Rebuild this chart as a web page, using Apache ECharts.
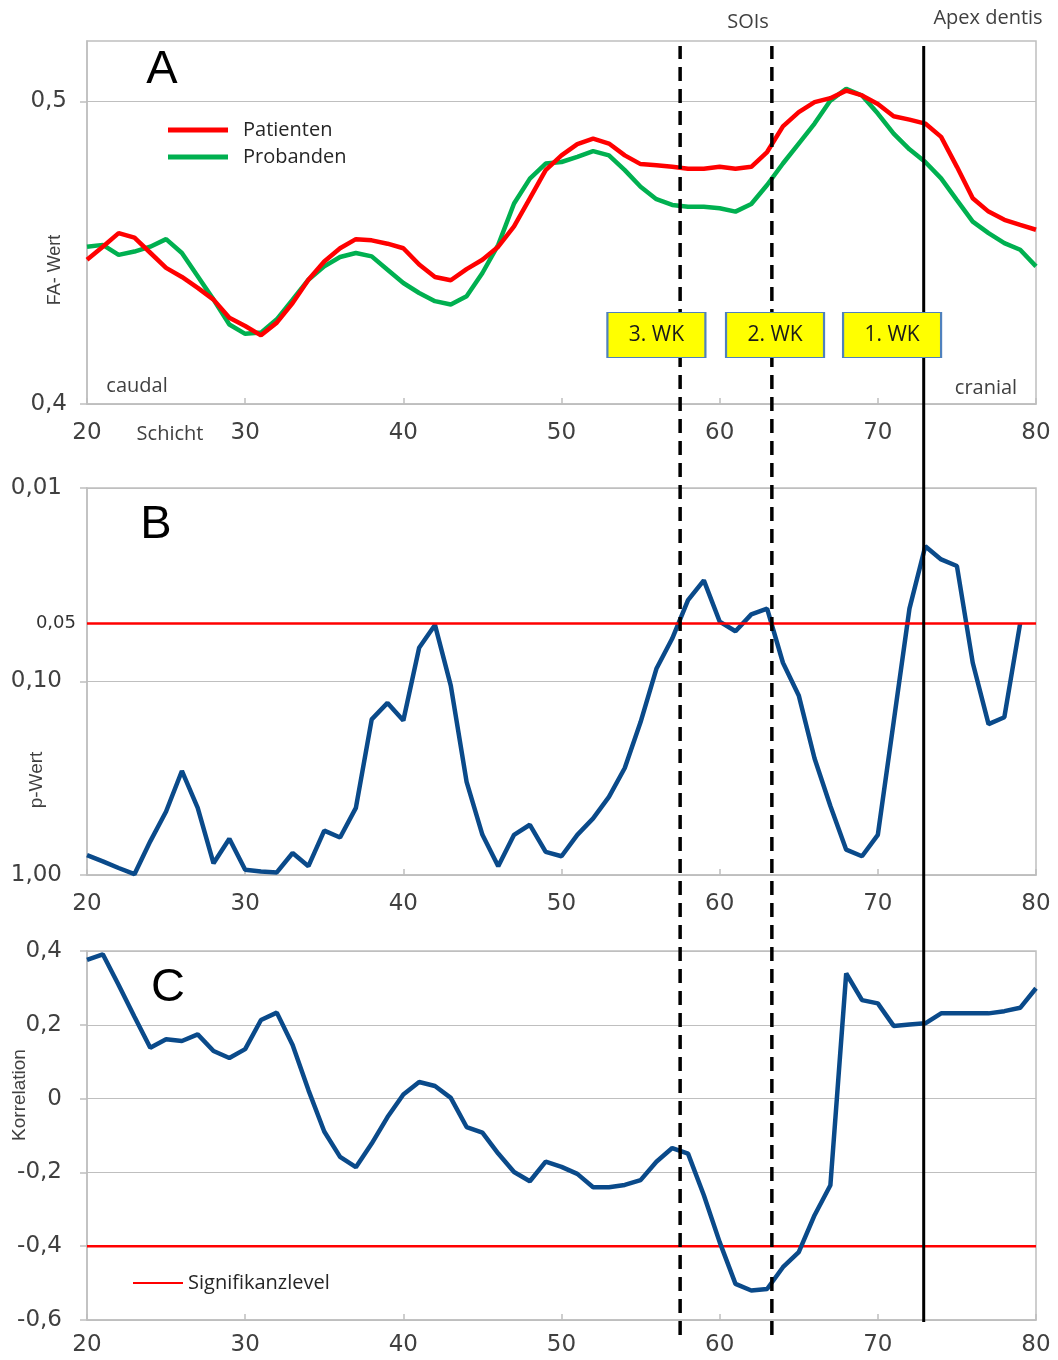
<!DOCTYPE html>
<html><head><meta charset="utf-8">
<script src="https://cdn.jsdelivr.net/npm/echarts@6/dist/echarts.min.js"></script>
<style>html,body{margin:0;padding:0;background:#fff}#chart{width:1058px;height:1360px}</style>
</head><body><div id="chart"></div>
<script>
// ---- data ----
const schicht = [20,21,22,23,24,25,26,27,28,29,30,31,32,33,34,35,36,37,38,39,40,41,42,43,44,45,46,47,48,49,50,51,52,53,54,55,56,57,58,59,60,61,62,63,64,65,66,67,68,69,70,71,72,73,74,75,76,77,78,79,80];
const faPatienten = [0.4477,0.4520,0.4565,0.4550,0.4500,0.4450,0.4420,0.4384,0.4345,0.4285,0.4258,0.4227,0.4269,0.4334,0.4411,0.4471,0.4515,0.4545,0.4541,0.4530,0.4515,0.4461,0.4420,0.4409,0.4446,0.4477,0.4520,0.4587,0.4680,0.4773,0.4822,0.4859,0.4877,0.4861,0.4822,0.4793,0.4789,0.4784,0.4778,0.4778,0.4784,0.4778,0.4784,0.4833,0.4918,0.4965,0.4998,0.5011,0.5036,0.5020,0.4992,0.4951,0.4940,0.4927,0.4883,0.4784,0.4680,0.4636,0.4609,0.4592,0.4576];
const faProbanden = [0.4520,0.4526,0.4493,0.4504,0.4520,0.4545,0.4499,0.4422,0.4345,0.4263,0.4232,0.4236,0.4280,0.4345,0.4411,0.4455,0.4486,0.4499,0.4488,0.4444,0.4400,0.4367,0.4340,0.4329,0.4356,0.4433,0.4526,0.4663,0.4745,0.4795,0.4800,0.4817,0.4836,0.4822,0.4773,0.4718,0.4677,0.4658,0.4652,0.4652,0.4647,0.4636,0.4661,0.4724,0.4795,0.4861,0.4927,0.5003,0.5042,0.5020,0.4960,0.4894,0.4842,0.4800,0.4746,0.4674,0.4603,0.4565,0.4532,0.4510,0.4455];
// p-values for Schicht 20..79
const pWert = [0.79,0.85,0.92,0.99,0.67,0.47,0.29,0.45,0.87,0.65,0.94,0.96,0.97,0.77,0.90,0.59,0.64,0.45,0.157,0.129,0.159,0.067,0.051,0.105,0.33,0.62,0.90,0.62,0.55,0.76,0.80,0.62,0.51,0.395,0.28,0.162,0.086,0.060,0.038,0.030,0.049,0.055,0.045,0.042,0.080,0.118,0.25,0.44,0.74,0.80,0.62,0.162,0.042,0.020,0.0234,0.0253,0.080,0.166,0.153,0.050];
const korrelation = [0.376,0.391,0.308,0.222,0.138,0.161,0.156,0.174,0.129,0.110,0.134,0.213,0.233,0.145,0.023,-0.089,-0.158,-0.186,-0.122,-0.050,0.011,0.045,0.034,0.002,-0.077,-0.092,-0.149,-0.199,-0.224,-0.171,-0.185,-0.204,-0.240,-0.240,-0.234,-0.221,-0.171,-0.134,-0.149,-0.262,-0.389,-0.502,-0.520,-0.516,-0.457,-0.416,-0.316,-0.235,0.339,0.267,0.258,0.197,0.201,0.204,0.231,0.231,0.231,0.231,0.237,0.246,0.299];
const pSignifikanz = 0.05;
const rSignifikanz = -0.4;
const soiSchicht = [57.5, 63.3];
const apexSchicht = 72.9;
const wkLabels = ['3. WK','2. WK','1. WK'];
const wkSchicht = [56.0, 63.5, 70.9];
const wkFA = 0.4228;
const xTicks = [20,30,40,50,60,70,80];
const faTicks = [0.4, 0.5];
const faTickLabels = ['0,4','0,5'];
const pTickLabels = ['0,01','0,10','1,00'];
const rTickLabels = ['-0,6','-0,4','-0,2','0','0,2','0,4'];

// ---- helpers ----
const zip = (xs, ys) => ys.map((y, i) => [xs[i], y]);
const GRAY = '#bfbfbf';
const TXT = '#404040';
const TICKFONT = 'DejaVu Sans';
const SMALLFONT = 'Open Sans';
const BLUE = '#0a4a8a';

function xAx(gi, margin, show) {
  return {
    type: 'value', gridIndex: gi, min: 20, max: 80, interval: 10, show: show !== false,
    axisLine: {show: true, onZero: false, lineStyle: {color: GRAY, width: 1.5}},
    axisTick: {show: true, inside: true, length: 6, lineStyle: {color: GRAY, width: 1.5}},
    axisLabel: {margin: margin, fontSize: 23, color: TXT, fontFamily: TICKFONT,
      formatter: v => { const i = xTicks.indexOf(Math.round(v)); return i >= 0 ? String(xTicks[i]) : ''; }},
    splitLine: {show: false}
  };
}
const yBase = (gi) => ({
  gridIndex: gi,
  axisLine: {show: true, lineStyle: {color: GRAY, width: 1.5}},
  axisTick: {show: true, inside: false, length: 7, lineStyle: {color: GRAY, width: 1.5}},
  splitLine: {show: true, lineStyle: {color: GRAY, width: 1.2}}
});

const gridCommon = {left: 87, right: 22, show: true, borderColor: GRAY, borderWidth: 1.5, containLabel: false, outerBoundsMode: 'none'};

const option = {
  animation: false,
  backgroundColor: '#fff',
  grid: [
    Object.assign({top: 41, bottom: 956}, gridCommon),
    Object.assign({top: 488, bottom: 485}, gridCommon),
    Object.assign({top: 951, bottom: 40}, gridCommon),
    {left: 87, right: 22, top: 46, bottom: 25, show: false, outerBoundsMode: 'none'},
    {left: 87, right: 22, top: 46, bottom: 38, show: false, outerBoundsMode: 'none'}
  ],
  xAxis: [xAx(0, 18), xAx(1, 18), xAx(2, 14), xAx(3, 0, false), xAx(4, 0, false)],
  yAxis: [
    Object.assign(yBase(0), {type: 'value', min: 0.4, max: 0.52, interval: 0.1,
      axisTick: {show: true, length: 7, lineStyle: {color: GRAY, width: 1.5}, customValues: faTicks},
      axisLabel: {margin: 20, fontSize: 23, color: TXT, fontFamily: TICKFONT, customValues: faTicks,
        formatter: v => { const i = faTicks.findIndex(t => Math.abs(t - v) < 1e-6); return i >= 0 ? faTickLabels[i] : ''; }}}),
    Object.assign(yBase(1), {type: 'log', logBase: 10, min: 0.01, max: 1, inverse: true,
      minorTick: {show: false}, minorSplitLine: {show: false},
      axisLabel: {margin: 25, fontSize: 23, color: TXT, fontFamily: TICKFONT,
        formatter: v => { const e = Math.round(Math.log10(v)) + 2; return pTickLabels[e] !== undefined ? pTickLabels[e] : ''; }}}),
    Object.assign(yBase(2), {type: 'value', min: -0.6, max: 0.4, interval: 0.2,
      axisLabel: {margin: 25, fontSize: 23, color: TXT, fontFamily: TICKFONT,
        formatter: v => { const i = Math.round((v + 0.6) / 0.2); return rTickLabels[i] !== undefined ? rTickLabels[i] : ''; }}}),
    {gridIndex: 3, type: 'value', min: 0, max: 1, show: false},
    {gridIndex: 4, type: 'value', min: 0, max: 1, show: false}
  ],
  legend: [
    {data: ['Patienten', 'Probanden'], orient: 'vertical', left: 168, top: 120, padding: 0,
      itemWidth: 60, itemHeight: 5, itemGap: 7, icon: 'rect',
      textStyle: {fontSize: 20, color: '#262626', fontFamily: SMALLFONT, padding: [0, 0, 0, 10]}},
    {data: ['Signifikanzlevel'], left: 133, top: 1273, padding: 0,
      itemWidth: 50, itemHeight: 2, icon: 'rect',
      textStyle: {fontSize: 20, color: '#262626', fontFamily: SMALLFONT, padding: [0, 0, 0, 0]}}
  ],
  series: [
    {name: 'Patienten', type: 'line', xAxisIndex: 0, yAxisIndex: 0, data: zip(schicht, faPatienten),
      symbol: 'none', z: 3, lineStyle: {color: '#ff0000', width: 4.5}, itemStyle: {color: '#ff0000'}},
    {name: 'Probanden', type: 'line', xAxisIndex: 0, yAxisIndex: 0, data: zip(schicht, faProbanden),
      symbol: 'none', z: 2, lineStyle: {color: '#00b050', width: 4.5}, itemStyle: {color: '#00b050'}},
    {name: 'WK', type: 'scatter', xAxisIndex: 0, yAxisIndex: 0, z: 20,
      data: wkLabels.map((l, i) => ({name: l, value: [wkSchicht[i], wkFA]})),
      symbol: 'rect', symbolSize: [98, 45],
      itemStyle: {color: '#ffff00', borderColor: '#4f81bd', borderWidth: 1.5, opacity: 1},
      label: {show: true, position: 'inside', formatter: p => p.name, fontSize: 21, color: '#1a1a1a', fontFamily: SMALLFONT},
      silent: true},
    {name: 'p-Wert', type: 'line', xAxisIndex: 1, yAxisIndex: 1, data: zip(schicht, pWert),
      symbol: 'none', z: 3, lineStyle: {color: BLUE, width: 4.5},
      markLine: {silent: true, symbol: 'none', animation: false,
        data: [{yAxis: pSignifikanz}],
        lineStyle: {color: '#ff0000', width: 2.5, type: 'solid'},
        label: {show: true, position: 'start', distance: 11, formatter: '0,05', fontSize: 18, color: '#333', fontFamily: TICKFONT}}},
    {name: 'Signifikanzlevel', type: 'line', xAxisIndex: 2, yAxisIndex: 2,
      data: [[schicht[0], rSignifikanz], [schicht[schicht.length - 1], rSignifikanz]],
      symbol: 'none', z: 2, lineStyle: {color: '#ff0000', width: 2.5}, itemStyle: {color: '#ff0000'}},
    {name: 'Korrelation', type: 'line', xAxisIndex: 2, yAxisIndex: 2, data: zip(schicht, korrelation),
      symbol: 'none', z: 3, lineStyle: {color: BLUE, width: 4.5}},
    ...soiSchicht.map((s, i) => ({name: 'SOI' + i, type: 'line', xAxisIndex: 3, yAxisIndex: 3,
      data: [[s, 0], [s, 1]], symbol: 'none', z: 10, silent: true,
      lineStyle: {color: '#000', width: 3.5, type: [14, 8], cap: 'butt'}})),
    {name: 'Apex', type: 'line', xAxisIndex: 4, yAxisIndex: 4, data: [[apexSchicht, 0], [apexSchicht, 1]],
      symbol: 'none', z: 10, silent: true, lineStyle: {color: '#000', width: 3}}
  ],
  graphic: [
    {type: 'text', x: 162, y: 70, style: {text: 'A', fontSize: 47, fontFamily: 'Liberation Sans', fill: '#000', textAlign: 'center', textVerticalAlign: 'middle'}},
    {type: 'text', x: 156, y: 525, style: {text: 'B', fontSize: 47, fontFamily: 'Liberation Sans', fill: '#000', textAlign: 'center', textVerticalAlign: 'middle'}},
    {type: 'text', x: 168, y: 988, style: {text: 'C', fontSize: 47, fontFamily: 'Liberation Sans', fill: '#000', textAlign: 'center', textVerticalAlign: 'middle'}},
    {type: 'text', x: 137, y: 386, style: {text: 'caudal', fontSize: 20, fontFamily: SMALLFONT, fill: TXT, textAlign: 'center', textVerticalAlign: 'middle'}},
    {type: 'text', x: 986, y: 388, style: {text: 'cranial', fontSize: 20, fontFamily: SMALLFONT, fill: TXT, textAlign: 'center', textVerticalAlign: 'middle'}},
    {type: 'text', x: 170, y: 434, style: {text: 'Schicht', fontSize: 20, fontFamily: SMALLFONT, fill: TXT, textAlign: 'center', textVerticalAlign: 'middle'}},
    {type: 'text', x: 748, y: 22, style: {text: 'SOIs', fontSize: 20, fontFamily: SMALLFONT, fill: TXT, textAlign: 'center', textVerticalAlign: 'middle'}},
    {type: 'text', x: 988, y: 18, style: {text: 'Apex dentis', fontSize: 20, fontFamily: SMALLFONT, fill: TXT, textAlign: 'center', textVerticalAlign: 'middle'}},
    {type: 'text', x: 55, y: 270, rotation: Math.PI / 2, style: {text: 'FA- Wert', fontSize: 18, fontFamily: 'Liberation Sans', fill: TXT, textAlign: 'center', textVerticalAlign: 'middle'}},
    {type: 'text', x: 37, y: 780, rotation: Math.PI / 2, style: {text: 'p-Wert', fontSize: 19, fontFamily: 'Liberation Sans', fill: TXT, textAlign: 'center', textVerticalAlign: 'middle'}},
    {type: 'text', x: 20, y: 1095, rotation: Math.PI / 2, style: {text: 'Korrelation', fontSize: 19, fontFamily: 'Liberation Sans', fill: TXT, textAlign: 'center', textVerticalAlign: 'middle'}}
  ]
};

const chart = echarts.init(document.getElementById('chart'), null, {renderer: 'canvas', width: 1058, height: 1360});
chart.setOption(option);
</script>
</body></html>
